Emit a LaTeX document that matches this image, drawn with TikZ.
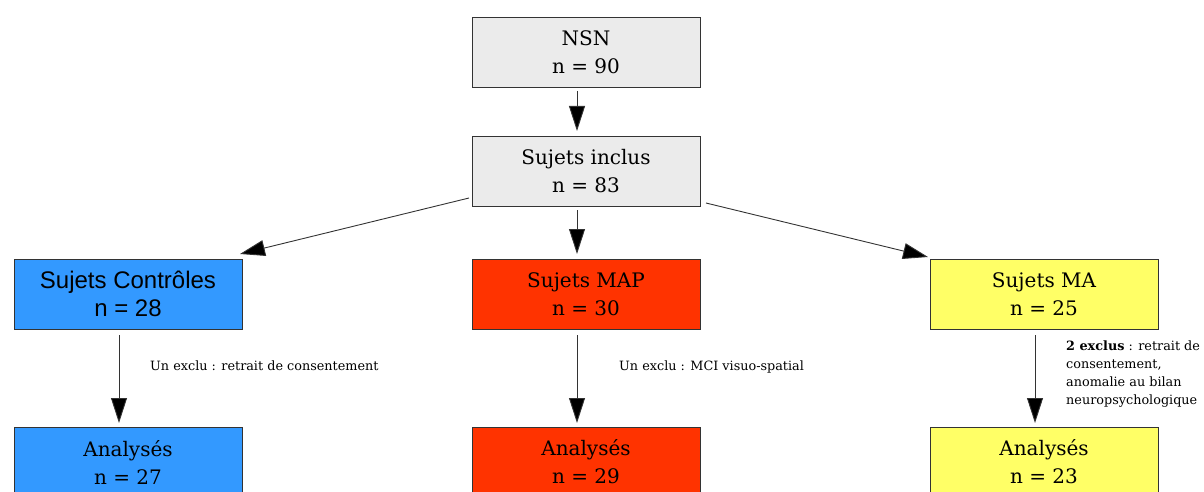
\documentclass[tikz,border=0pt]{standalone}
\usepackage{fontspec}
\setmainfont{DejaVu Serif}
\newfontfamily\boxsans{Liberation Sans}
\usetikzlibrary{arrows.meta}
\definecolor{greyfill}{HTML}{EBEBEB}
\definecolor{bluefill}{HTML}{3399FF}
\definecolor{redfill}{HTML}{FF3300}
\definecolor{yellowfill}{HTML}{FFFF66}
\definecolor{edgegrey}{HTML}{333333}
\tikzset{
  flowbox/.style={draw=edgegrey, line width=0.8pt, minimum width=228pt, minimum height=70pt,
    align=center, inner sep=0pt, font=\fontsize{20}{28}\selectfont},
  flowarrow/.style={draw=edgegrey, line width=0.9pt, -{Triangle[length=25pt,width=16pt,fill=black]}},
  note/.style={anchor=north west, align=left, inner sep=0pt, font=\fontsize{12.8}{18}\selectfont}
}
\begin{document}
\begin{tikzpicture}[x=1pt,y=-1pt]
\useasboundingbox (0,0) rectangle (1204,492);
\clip (0,0) rectangle (1204,492);
\node[flowbox, fill=greyfill] (nsn) at (586,52) {NSN\\n = 90};
\node[flowbox, fill=greyfill] (incl) at (586,171) {Sujets inclus\\n = 83};
\node[flowbox, fill=bluefill, font=\boxsans\fontsize{24}{28}\selectfont] (ctrl) at (128,294) {Sujets Contrôles\\n = 28};
\node[flowbox, fill=redfill] (map) at (586,294) {Sujets MAP\\n = 30};
\node[flowbox, fill=yellowfill] (ma) at (1044,294) {Sujets MA\\n = 25};
\node[flowbox, fill=bluefill] (actrl) at (128,462) {Analysés\\n = 27};
\node[flowbox, fill=redfill] (amap) at (586,462) {Analysés\\n = 29};
\node[flowbox, fill=yellowfill] (ama) at (1044,462) {Analysés\\n = 23};

\coordinate (s1) at (577,91);   \coordinate (e1) at (577,131);
\coordinate (s2) at (577,210);  \coordinate (e2) at (577,254);
\coordinate (s3) at (469,198);  \coordinate (e3) at (240,254);
\coordinate (s4) at (706,203);  \coordinate (e4) at (928,257);
\coordinate (s5) at (119,335);  \coordinate (e5) at (119,423);
\coordinate (s6) at (577,335);  \coordinate (e6) at (577,423);
\coordinate (s7) at (1035,335); \coordinate (e7) at (1035,423);

\draw[flowarrow] (s1) -- (e1);
\draw[flowarrow] (s2) -- (e2);
\draw[flowarrow] (s3) -- (e3);
\draw[flowarrow] (s4) -- (e4);
\draw[flowarrow] (s5) -- (e5);
\draw[flowarrow] (s6) -- (e6);
\draw[flowarrow] (s7) -- (e7);

\node[note] (n1) at (150,361) {Un exclu : retrait de consentement};
\node[note] (n2) at (619,361) {Un exclu : MCI visuo-spatial};
\node[note] (n3) at (1066,341) {\textbf{2 exclus} : retrait de\\consentement,\\anomalie au bilan\\neuropsychologique};
\end{tikzpicture}
\end{document}
